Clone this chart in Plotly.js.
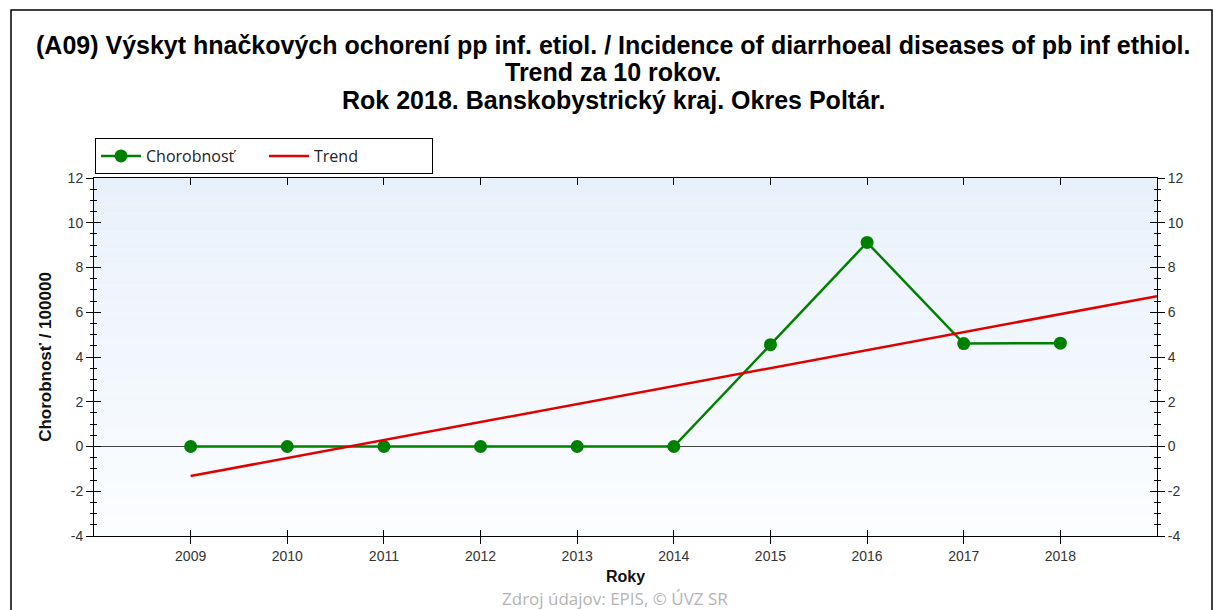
<!DOCTYPE html>
<html>
<head>
<meta charset="utf-8">
<script src="https://cdn.plot.ly/plotly-3.0.1.min.js"></script>
<style>html,body{margin:0;padding:0;background:#fff;}#chart{width:1215px;height:610px;}</style>
</head>
<body>
<div id="chart"></div>
<script>
// ---- data ----
const years = [2009, 2010, 2011, 2012, 2013, 2014, 2015, 2016, 2017, 2018];
const morbidity = [0, 0, 0, 0, 0, 0, 4.55, 9.12, 4.6, 4.62];
const trendYears = [2009, 2019];
const trendValues = [-1.32, 6.72];
const yearLabels = ["2009","2010","2011","2012","2013","2014","2015","2016","2017","2018"];
const yTickVals = [-4, -2, 0, 2, 4, 6, 8, 10, 12];

const titleLines = [
  "(A09) Výskyt hnačkových ochorení pp inf. etiol. / Incidence of diarrhoeal diseases of pb inf ethiol.",
  "Trend za 10 rokov.",
  "Rok 2018. Banskobystrický kraj. Okres Poltár."
];
const titleLineY = [45, 72, 100];

const FONT = "Liberation Sans, Arial, sans-serif";
const PW = 1063, PH = 358, PL = 94, PT = 178;
function px2x(px) { return (px - PL) / PW; }
function py2y(py) { return 1 - (py - PT) / PH; }

const traces = [
  {
    x: years, y: morbidity, name: "Chorobnosť", type: "scatter", mode: "lines+markers",
    line: {color: "#008000", width: 2.5},
    marker: {color: "#008000", size: 13, symbol: "circle"},
    xaxis: "x", yaxis: "y"
  },
  {
    x: trendYears, y: trendValues, name: "Trend", type: "scatter", mode: "lines",
    line: {color: "#e00000", width: 2.5},
    xaxis: "x", yaxis: "y"
  },
  // empty helper traces so the mirrored axes are drawn
  {x: [], y: [], xaxis: "x2", yaxis: "y2", showlegend: false, hoverinfo: "skip", type: "scatter"},
  {x: [], y: [], xaxis: "x3", yaxis: "y3", showlegend: false, hoverinfo: "skip", type: "scatter"},
  {x: [], y: [], xaxis: "x3", yaxis: "y4", showlegend: false, hoverinfo: "skip", type: "scatter"}
];

// background gradient stripes (style only)
const shapes = [];
const N = 40;
function lerp(a, b, t) { return Math.round(a + (b - a) * t); }
const gradTop = [232, 241, 251], gradBot = [251, 253, 255];
for (let i = 0; i < N; i++) {
  const t = i / (N - 1);
  const c = [lerp(gradBot[0], gradTop[0], t), lerp(gradBot[1], gradTop[1], t), lerp(gradBot[2], gradTop[2], t)];
  shapes.push({
    type: "rect", xref: "x domain", yref: "y domain",
    x0: 0, x1: 1, y0: i / N, y1: (i + 1) / N,
    fillcolor: "rgb(" + c.join(",") + ")", line: {width: 0}, layer: "below"
  });
}
// outer frame
shapes.push({
  type: "rect", xref: "paper", yref: "paper",
  x0: px2x(11), x1: px2x(1212), y0: -0.5, y1: py2y(10),
  line: {color: "#000", width: 1.5}, fillcolor: "rgba(0,0,0,0)", layer: "above"
});

const TICKFONT = {family: FONT, size: 14, color: "#333"};
const yBase = {
  range: [-4, 12], tickvals: yTickVals, ticktext: yTickVals.map(String),
  showline: true, linecolor: "#000", linewidth: 1,
  tickcolor: "#000", tickwidth: 1, ticklen: 7,
  showgrid: false, zeroline: false,
  minor: {dtick: 0.5, ticklen: 3, tickcolor: "#000", tickwidth: 1, showgrid: false},
  tickfont: TICKFONT,
  fixedrange: true
};
const xBase = {
  range: [2008, 2019], tickvals: years,
  showline: true, linecolor: "#000", linewidth: 1,
  tickcolor: "#000", tickwidth: 1, ticklen: 7,
  showgrid: false, zeroline: false, fixedrange: true
};

const annotations = titleLines.map((t, i) => ({
  text: "<b>" + t + "</b>", xref: "paper", yref: "paper",
  x: px2x(613), y: py2y(titleLineY[i]), xanchor: "center", yanchor: "middle",
  showarrow: false, font: {family: FONT, size: 25, color: "#000"}
}));
annotations.push({
  text: "Zdroj údajov: EPIS, © ÚVZ SR", xref: "paper", yref: "paper",
  x: px2x(615), y: py2y(598), xanchor: "center", yanchor: "middle",
  showarrow: false, font: {family: "Open Sans, sans-serif", size: 17, color: "#b4b4b4"}
});

const layout = {
  width: 1215, height: 610,
  paper_bgcolor: "#ffffff", plot_bgcolor: "#ffffff",
  margin: {l: PL, r: 58, t: PT, b: 74},
  font: {family: FONT, color: "#000"},
  showlegend: true,
  legend: {
    orientation: "h", x: px2x(95), xanchor: "left", y: py2y(138), yanchor: "top",
    bordercolor: "#000", borderwidth: 1, bgcolor: "#ffffff",
    font: {family: "Open Sans, sans-serif", size: 16, color: "#222"},
    entrywidth: 113, entrywidthmode: "pixels", itemwidth: 40,
    tracegroupgap: 0
  },
  xaxis: Object.assign({}, xBase, {
    ticktext: yearLabels, ticks: "outside", side: "bottom", anchor: "y",
    tickfont: TICKFONT,
    title: {text: "<b>Roky</b>", font: {family: FONT, size: 16, color: "#111"}, standoff: 8}
  }),
  xaxis2: Object.assign({}, xBase, {
    showticklabels: false, overlaying: "x", side: "top", anchor: "y2", ticks: "inside"
  }),
  xaxis3: Object.assign({}, xBase, {
    showticklabels: false, overlaying: "x", side: "bottom", anchor: "y3",
    showline: false, ticks: "inside", ticklen: 6
  }),
  yaxis: Object.assign({}, yBase, {
    side: "left", ticks: "outside", anchor: "x",
    zeroline: true, zerolinecolor: "#444", zerolinewidth: 1,
    minor: Object.assign({}, yBase.minor, {ticks: "outside"}),
    title: {text: "<b>Chorobnosť / 100000</b>", font: {family: FONT, size: 17, color: "#111"}, standoff: 11}
  }),
  yaxis2: Object.assign({}, yBase, {
    side: "right", ticks: "outside", overlaying: "y", anchor: "x2",
    minor: Object.assign({}, yBase.minor, {ticks: "outside"})
  }),
  yaxis3: Object.assign({}, yBase, {
    side: "left", ticks: "inside", overlaying: "y", anchor: "x3", showticklabels: false,
    minor: Object.assign({}, yBase.minor, {ticks: "inside"})
  }),
  yaxis4: Object.assign({}, yBase, {
    side: "right", ticks: "inside", overlaying: "y", anchor: "x3", showticklabels: false,
    minor: Object.assign({}, yBase.minor, {ticks: "inside"})
  }),
  shapes: shapes,
  annotations: annotations
};

Plotly.newPlot("chart", traces, layout, {displayModeBar: false, staticPlot: true});
</script>
</body>
</html>
